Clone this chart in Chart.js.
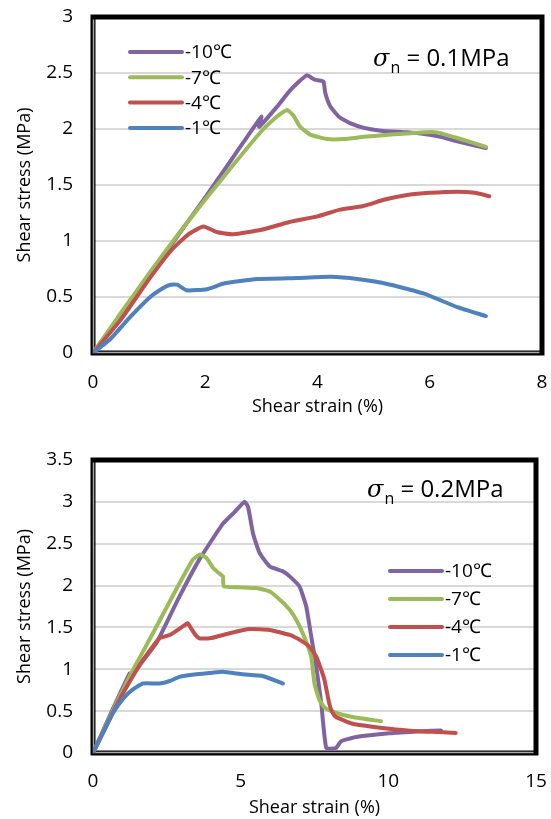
<!DOCTYPE html>
<html>
<head>
<meta charset="utf-8">
<script src="https://cdn.jsdelivr.net/npm/chart.js@4"></script>
<style>
  html, body { margin: 0; padding: 0; background: #ffffff; }
  body { width: 551px; height: 819px; position: relative; overflow: hidden; }
  canvas { position: absolute; left: 0; }
  #c1 { top: -15px; }
  #c2 { top: 420px; }
</style>
</head>
<body>
<canvas id="c1" width="568" height="435"></canvas>
<canvas id="c2" width="565" height="399"></canvas>
<script>
// ---------- DATA ----------
const seriesLabels = ['-10\u2103', '-7\u2103', '-4\u2103', '-1\u2103'];
const seriesColors = ['#8064A2', '#9BBB59', '#C0504D', '#4F81BD'];

// Top chart: sigma_n = 0.1 MPa
const top10x = [0,0.5,1,1.5,2,2.5,3.0,2.96,3.28,3.52,3.81,3.95,4.08,4.11,4.14,4.23,4.38,4.59,4.83,5.13,5.6,5.9,6.19,6.49,7.0];
const top10y = [0,0.34,0.69,1.04,1.39,1.75,2.11,2.02,2.2,2.35,2.48,2.44,2.43,2.42,2.32,2.2,2.11,2.05,2.01,1.985,1.97,1.955,1.93,1.89,1.83];
const top7x  = [0,0.5,1,1.5,2,2.5,3,3.3,3.46,3.57,3.69,3.87,4.17,4.47,4.83,5.3,5.9,6.13,6.49,7.0];
const top7y  = [0,0.36,0.71,1.05,1.37,1.68,1.98,2.12,2.17,2.12,2.02,1.95,1.91,1.91,1.93,1.95,1.97,1.97,1.92,1.84];
const top4x  = [0,0.5,1,1.4,1.7,1.97,2.2,2.5,3,3.5,4,4.4,4.8,5.2,5.6,6,6.5,6.8,7.06];
const top4y  = [0,0.3,0.66,0.92,1.06,1.13,1.08,1.06,1.1,1.17,1.22,1.28,1.31,1.37,1.41,1.43,1.44,1.43,1.40];
const top1x  = [0,0.3,0.66,1.02,1.25,1.38,1.5,1.67,2.03,2.33,2.92,3.64,4.23,4.71,5.3,5.9,6.49,7.0];
const top1y  = [0,0.12,0.32,0.5,0.58,0.61,0.61,0.56,0.57,0.62,0.66,0.67,0.68,0.66,0.61,0.53,0.41,0.33];

// Bottom chart: sigma_n = 0.2 MPa
const bot10x = [0,0.6,1.24,1.2,1.6,2.14,2.9,3.6,4.4,4.8,5.13,5.25,5.42,5.64,5.98,6.43,6.66,6.99,7.22,7.39,7.56,7.73,7.9,8.23,8.4,8.91,10.03,11.16,11.78];
const bot10y = [0,0.47,0.95,0.88,1.06,1.31,1.85,2.31,2.74,2.88,3.0,2.94,2.62,2.39,2.23,2.17,2.11,1.99,1.75,1.39,1.03,0.59,0.06,0.06,0.14,0.19,0.235,0.26,0.27];
const bot7x  = [0,0.68,1.35,2.03,2.81,3.38,3.62,3.84,4.07,4.29,4.4,4.43,4.97,5.53,5.98,6.3,6.66,6.9,7.1,7.25,7.39,7.5,7.67,7.85,8.12,8.79,9.75];
const bot7y  = [0,0.51,0.99,1.43,1.95,2.31,2.37,2.33,2.21,2.14,2.11,1.99,1.98,1.97,1.93,1.84,1.71,1.58,1.43,1.3,1.15,0.83,0.63,0.54,0.49,0.43,0.38];
const bot4x  = [0,0.5,1.01,1.69,2.25,2.6,2.95,3.21,3.3,3.45,3.6,3.95,4.63,5.3,5.98,6.66,7.1,7.35,7.56,7.72,7.84,8.0,8.1,8.23,8.79,10.03,11.0,11.72,12.28];
const bot4y  = [0,0.36,0.71,1.11,1.37,1.41,1.49,1.55,1.5,1.42,1.37,1.37,1.43,1.48,1.47,1.41,1.33,1.26,1.15,1.0,0.87,0.59,0.49,0.43,0.35,0.29,0.26,0.25,0.24];
const bot1x  = [0,0.34,0.68,1.02,1.35,1.69,2.25,2.6,2.93,3.5,4.05,4.4,5.08,5.74,6.43];
const bot1y  = [0,0.24,0.48,0.65,0.76,0.83,0.83,0.86,0.91,0.94,0.96,0.97,0.94,0.92,0.83];

const xTitle = 'Shear strain (%)';
const yTitle = 'Shear stress (MPa)';
const topAxis = { xMin: 0, xMax: 8, xStep: 2, yMin: 0, yMax: 3, yStep: 0.5 };
const botAxis = { xMin: 0, xMax: 15, xStep: 5, yMin: 0, yMax: 3.5, yStep: 0.5 };
const topNote = { sub: 'n', rest: ' = 0.1MPa' };
const botNote = { sub: 'n', rest: ' = 0.2MPa' };

// ---------- BUILD ----------
const FONT = "'Open Sans', 'Liberation Sans', sans-serif";
function pts(xs, ys) { return xs.map((x, i) => ({ x: x, y: ys[i] })); }

function makeDatasets(pairs) {
  return pairs.map((p, i) => ({
    label: seriesLabels[i],
    data: pts(p[0], p[1]),
    borderColor: seriesColors[i],
    backgroundColor: seriesColors[i],
    borderWidth: 4,
    pointRadius: 0,
    showLine: true,
    tension: 0.15,
    fill: false,
    order: 4 - i,
    borderCapStyle: 'round',
    borderJoinStyle: 'round'
  }));
}

const framePlugin = {
  id: 'frame',
  beforeDatasetsDraw(chart) {
    const a = chart.chartArea, c = chart.ctx;
    c.save();
    c.strokeStyle = '#000000';
    c.lineWidth = 5;
    c.strokeRect(a.left, a.top, a.right - a.left, a.bottom - a.top);
    c.strokeStyle = '#a6a6a6';
    c.lineWidth = 1.5;
    c.beginPath();
    c.moveTo(a.left + 0.5, a.top + 2.5);
    c.lineTo(a.left + 0.5, a.bottom - 0.5);
    c.lineTo(a.right - 2.5, a.bottom - 0.5);
    c.stroke();
    c.restore();
  }
};

function overlayPlugin(cfg) {
  return {
    id: 'overlay',
    afterDraw(chart) {
      const a = chart.chartArea, c = chart.ctx;
      c.save();
      // legend
      c.font = '19px ' + FONT;
      c.textBaseline = 'middle';
      c.textAlign = 'left';
      chart.data.datasets.forEach((ds, i) => {
        const y = a.top + cfg.legDy + i * cfg.legGap;
        const x0 = a.left + cfg.legDx;
        c.strokeStyle = ds.borderColor;
        c.lineWidth = 4;
        c.lineCap = 'round';
        c.beginPath();
        c.moveTo(x0, y);
        c.lineTo(x0 + 52, y);
        c.stroke();
        c.fillStyle = '#000000';
        c.fillText(ds.label, x0 + 55, y + 1);
      });
      // sigma note
      let x = a.left + cfg.noteDx;
      const yb = a.top + cfg.noteDy;
      c.textBaseline = 'alphabetic';
      c.fillStyle = '#000000';
      c.font = 'italic 24px "DejaVu Serif", serif';
      c.fillText('\u03C3', x, yb);
      x += c.measureText('\u03C3').width + 1;
      c.font = '16px ' + FONT;
      c.fillText(cfg.note.sub, x, yb + 7);
      x += c.measureText(cfg.note.sub).width;
      c.font = '24px ' + FONT;
      c.fillText(cfg.note.rest, x, yb);
      c.restore();
    }
  };
}

function makeChart(id, pairs, ax, padRight, padTop, xPadTick, xTitlePad, cfg) {
  return new Chart(document.getElementById(id), {
    type: 'scatter',
    data: { datasets: makeDatasets(pairs) },
    options: {
      responsive: false,
      animation: false,
      layout: { padding: { left: 0, right: padRight, top: padTop, bottom: 0 } },
      plugins: { legend: { display: false }, tooltip: { enabled: false } },
      scales: {
        x: {
          type: 'linear', min: ax.xMin, max: ax.xMax,
          afterFit(s) { s.height = cfg.xAxisH; },
          ticks: { stepSize: ax.xStep, padding: xPadTick, color: '#000000',
                   font: { family: FONT, size: 19 }, callback: v => String(v) },
          grid: { display: false, drawTicks: false },
          border: { display: false },
          title: { display: true, text: xTitle, color: '#000000',
                   font: { family: FONT, size: 18 }, padding: { top: 0, bottom: xTitlePad } }
        },
        y: {
          type: 'linear', min: ax.yMin, max: ax.yMax,
          afterFit(s) { s.width = 93; },
          ticks: { stepSize: ax.yStep, padding: 20, color: '#000000',
                   font: { family: FONT, size: 19 }, callback: v => String(v) },
          grid: { color: '#d9d9d9', lineWidth: 2, drawTicks: false },
          border: { display: false },
          title: { display: true, text: yTitle, color: '#000000',
                   font: { family: FONT, size: 18 }, padding: { top: 14, bottom: 0 } }
        }
      }
    },
    plugins: [framePlugin, overlayPlugin(cfg)]
  });
}

makeChart('c1',
  [[top10x, top10y], [top7x, top7y], [top4x, top4y], [top1x, top1y]],
  topAxis, 26, 32, 18, 2,
  { xAxisH: 67, legDx: 37, legDy: 35, legGap: 25.3, noteDx: 280, noteDy: 49, note: topNote });

makeChart('c2',
  [[bot10x, bot10y], [bot7x, bot7y], [bot4x, bot4y], [bot1x, bot1y]],
  botAxis, 29, 40, 17, 0,
  { xAxisH: 66, legDx: 297, legDy: 111, legGap: 28, noteDx: 274, noteDy: 37, note: botNote });
</script>
</body>
</html>
